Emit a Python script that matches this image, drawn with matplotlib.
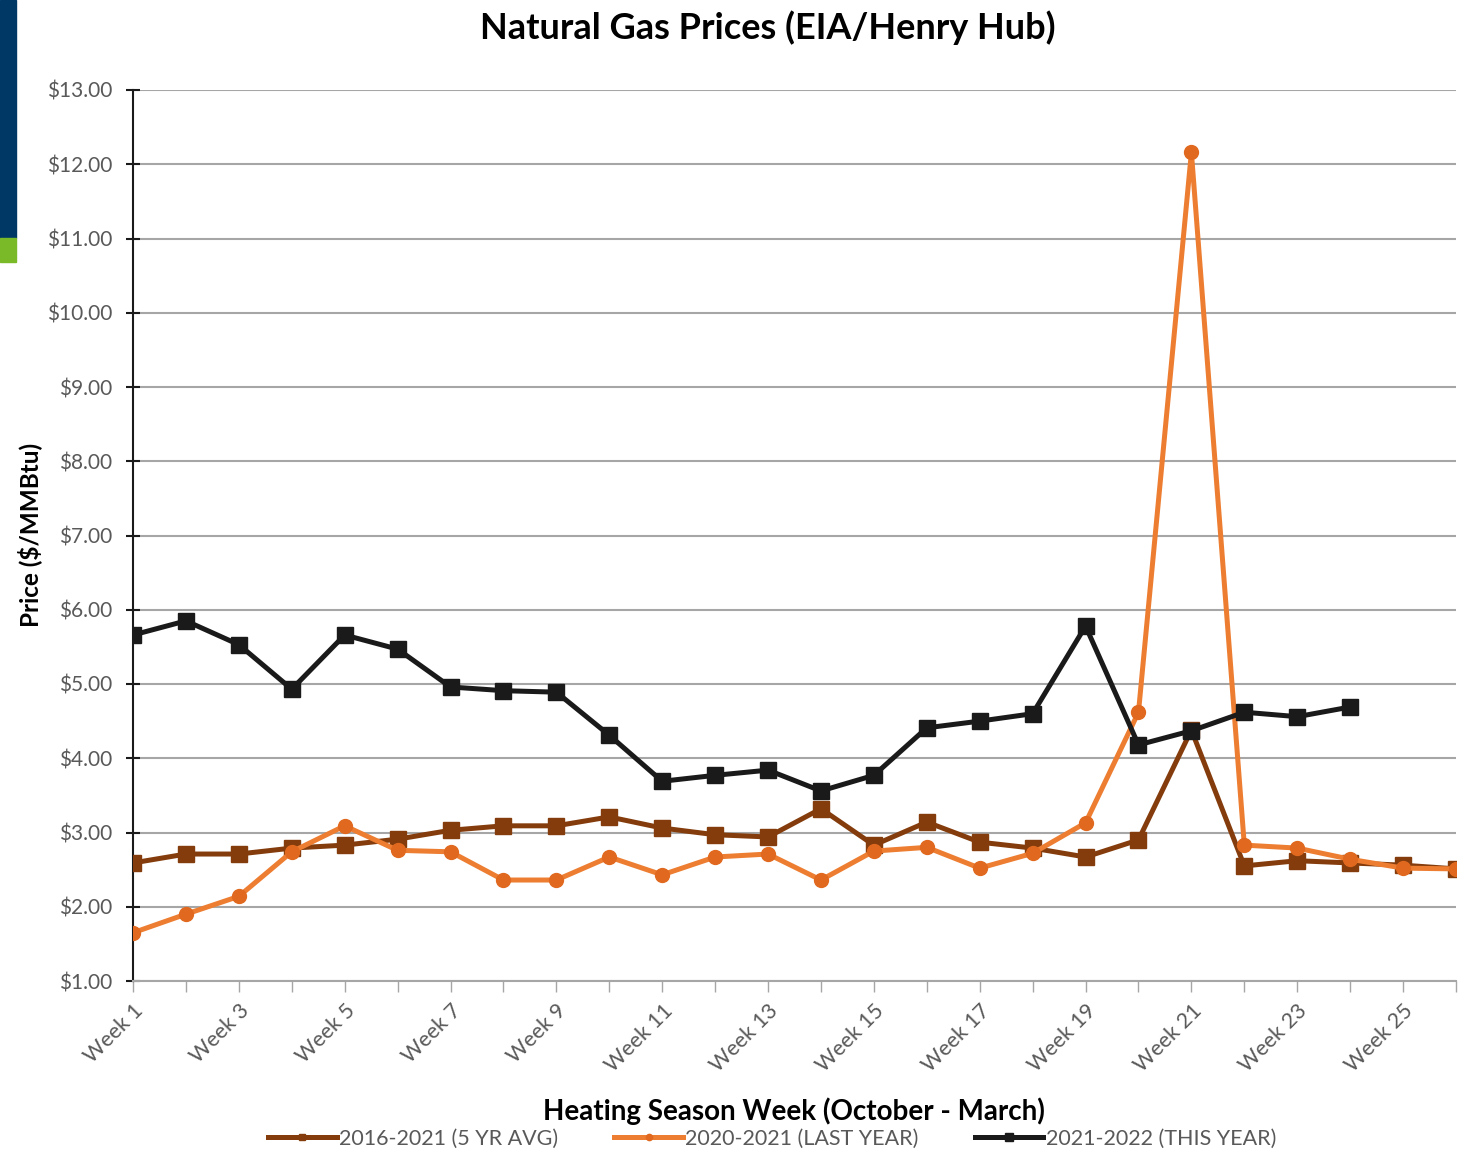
import matplotlib
matplotlib.use("Agg")
import matplotlib.pyplot as plt
from matplotlib.patches import Rectangle
from matplotlib.ticker import FuncFormatter, MultipleLocator

plt.rcParams["font.family"] = ["Lato", "DejaVu Sans"]

weeks = [f"Week {i}" for i in range(1, 27)]
avg_5yr = [2.59, 2.71, 2.71, 2.79, 2.83, 2.91, 3.03, 3.09, 3.09, 3.21, 3.06, 2.97, 2.94,
           3.32, 2.83, 3.14, 2.87, 2.79, 2.67, 2.90, 4.38, 2.55, 2.62, 2.59, 2.56, 2.51]
last_year = [1.65, 1.90, 2.14, 2.74, 3.09, 2.76, 2.74, 2.36, 2.36, 2.67, 2.43, 2.67, 2.71,
             2.36, 2.75, 2.80, 2.52, 2.72, 3.13, 4.62, 12.16, 2.83, 2.79, 2.64, 2.52, 2.51]
this_year = [5.66, 5.85, 5.53, 4.93, 5.66, 5.47, 4.96, 4.91, 4.89, 4.31, 3.69, 3.77, 3.84,
             3.56, 3.77, 4.41, 4.50, 4.60, 5.78, 4.18, 4.37, 4.62, 4.56, 4.69]

BROWN = "#843c0c"
ORANGE = "#ed7d31"
BLACK = "#1a1a1a"
GREY = "#595959"

W, H = 1465, 1152
fig = plt.figure(figsize=(W / 100, H / 100), dpi=100)
ax = fig.add_axes([133 / W, 1 - 981 / H, (1456 - 133) / W, (981 - 90) / H])

# side decoration
fig.patches.append(Rectangle((0, 1 - 238 / H), 16 / W, 238 / H, transform=fig.transFigure,
                             color="#003865", zorder=0))
fig.patches.append(Rectangle((0, 1 - 262 / H), 16 / W, 24 / H, transform=fig.transFigure,
                             color="#7ab928", zorder=0))

x = list(range(len(weeks)))
ax.plot(x[:len(avg_5yr)], avg_5yr, color=BROWN, lw=3.6, marker="s", ms=11,
        label="2016-2021 (5 YR AVG)", zorder=3)
ax.plot(x[:len(last_year)], last_year, color=ORANGE, lw=3.6, marker="o", ms=10,
        markerfacecolor="#e0691f", markeredgecolor="#e0691f",
        label="2020-2021 (LAST YEAR)", zorder=4)
ax.plot(x[:len(this_year)], this_year, color=BLACK, lw=3.6, marker="s", ms=12,
        label="2021-2022 (THIS YEAR)", zorder=5)

ax.set_xlim(0, len(weeks) - 1)
ax.set_ylim(1, 13)
ax.yaxis.set_major_locator(MultipleLocator(1))
ax.yaxis.set_major_formatter(FuncFormatter(lambda v, p: f"${v:.2f}"))
ax.grid(axis="y", color="#a6a6a6", lw=1.5)
ax.set_axisbelow(True)

ax.set_xticks(x)
ax.set_xticklabels([w if i % 2 == 0 else "" for i, w in enumerate(weeks)],
                   rotation=45, ha="right", rotation_mode="anchor")
ax.tick_params(axis="x", length=8, width=1, color="#a6a6a6", labelsize=15.5,
               labelcolor=GREY, pad=6)
ax.tick_params(axis="y", direction="inout", length=10, width=1.5, color=BLACK,
               labelsize=15, labelcolor=GREY, pad=10)

for s in ["top", "right"]:
    ax.spines[s].set_visible(False)
ax.spines["left"].set_color(BLACK)
ax.spines["left"].set_linewidth(1.5)
ax.spines["bottom"].set_color("#a6a6a6")
ax.spines["bottom"].set_linewidth(1.5)

fig.text(768 / W, 1 - 28 / H, "Natural Gas Prices (EIA/Henry Hub)", ha="center", va="center",
         fontsize=26, fontweight="bold", color="black")
fig.text(30 / W, 1 - 535 / H, "Price ($/MMBtu)", rotation=90, ha="center", va="center",
         fontsize=17.5, fontweight="bold", color="black")
fig.text(794 / W, 1 - 1111 / H, "Heating Season Week (October - March)", ha="center",
         va="center", fontsize=20, fontweight="bold", color="black")

fig.legend(loc="center", bbox_to_anchor=(772 / W, 1 - 1139 / H), ncol=3, frameon=False,
           fontsize=15.5, labelcolor=GREY, handlelength=3.2, columnspacing=2.6,
           handletextpad=0.1, markerscale=0.45)

fig.savefig("out.png", dpi=100)
